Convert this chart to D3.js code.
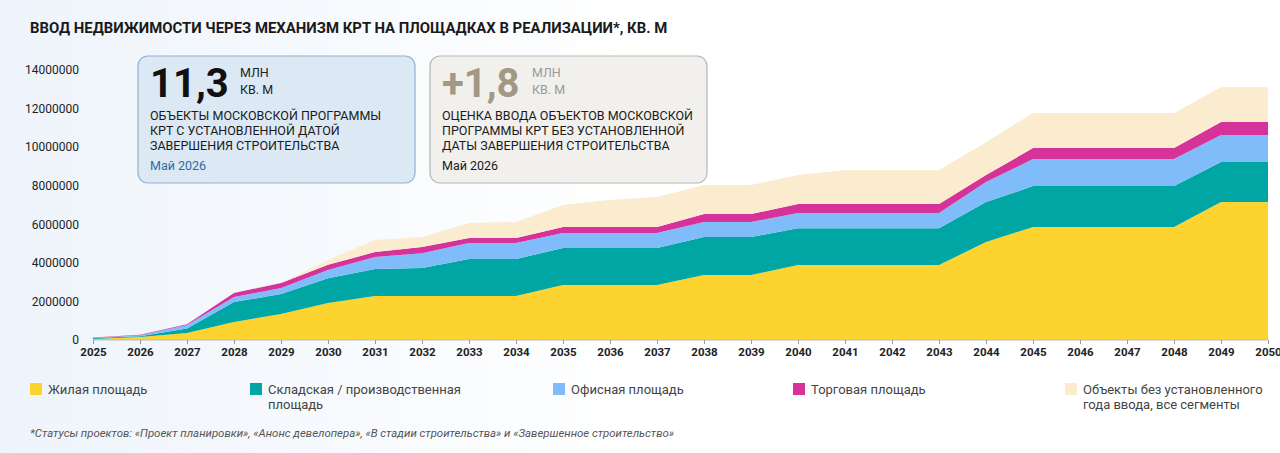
<!DOCTYPE html>
<html><head><meta charset="utf-8">
<script src="https://cdn.jsdelivr.net/npm/d3@7"></script>
<style>
body{margin:0;background:#fff;font-family:Roboto,"Noto Sans",sans-serif;}
svg text{font-family:Roboto,"Noto Sans",sans-serif;}
</style></head><body>
<div id="chart"></div>
<script>
// values in million sq. m, per segment, per year
var years = d3.range(2025, 2051);
var residential = [0.05,0.15,0.36,0.93,1.35,1.92,2.28,2.28,2.28,2.28,2.85,2.85,2.85,3.37,3.37,3.89,3.89,3.89,3.89,5.08,5.86,5.86,5.86,5.86,7.15,7.15];
var warehouse = [0.05,0.05,0.24,1.04,1.03,1.28,1.40,1.45,1.92,1.92,1.92,1.92,1.92,1.97,1.97,1.91,1.91,1.91,1.91,2.07,2.12,2.12,2.12,2.12,2.08,2.08];
var office = [0.02,0.05,0.18,0.26,0.32,0.43,0.62,0.77,0.83,0.83,0.78,0.78,0.78,0.78,0.78,0.78,0.78,0.78,0.78,1.04,1.40,1.40,1.40,1.40,1.40,1.40];
var retail = [0.01,0.02,0.04,0.21,0.25,0.27,0.26,0.32,0.26,0.26,0.31,0.31,0.31,0.41,0.41,0.47,0.47,0.47,0.47,0.36,0.57,0.57,0.57,0.57,0.67,0.67];
var undated = [0,0,0,0,0.02,0.25,0.62,0.52,0.78,0.83,1.14,1.40,1.55,1.51,1.51,1.50,1.76,1.76,1.76,1.71,1.82,1.82,1.82,1.82,1.80,1.80];
var yTicks = [0,2000000,4000000,6000000,8000000,10000000,12000000,14000000];

var keys = ["res","wh","off","ret","und"];
var colors = {res:"#fdd42f", wh:"#00a6a4", off:"#7fbcf9", ret:"#d6339a", und:"#fbebcf"};
var labels = ["Жилая площадь", ["Складская / производственная","площадь"], "Офисная площадь", "Торговая площадь", ["Объекты без установленного","года ввода, все сегменты"]];

var table = years.map(function(y, i){
  return {year:y, res:residential[i]*1e6, wh:warehouse[i]*1e6, off:office[i]*1e6, ret:retail[i]*1e6, und:undated[i]*1e6};
});

var W = 1280, H = 453;
var svg = d3.select("#chart").append("svg").attr("width", W).attr("height", H);

var defs = svg.append("defs");
var grad = defs.append("linearGradient").attr("id","bg").attr("x1","0").attr("x2","1").attr("y1","0").attr("y2","0");
grad.append("stop").attr("offset","0").attr("stop-color","#eef4fb");
grad.append("stop").attr("offset","0.5").attr("stop-color","#ffffff");
svg.append("rect").attr("width",W).attr("height",H).attr("fill","url(#bg)");

svg.append("text").attr("x",30).attr("y",33).attr("font-size",14.9).attr("font-weight",700).attr("fill","#1a1a1a")
  .text("ВВОД НЕДВИЖИМОСТИ ЧЕРЕЗ МЕХАНИЗМ КРТ НА ПЛОЩАДКАХ В РЕАЛИЗАЦИИ*, КВ. М");

var x = d3.scaleLinear().domain([2025, 2050]).range([93, 1268]);
var y = d3.scaleLinear().domain([0, 14000000]).range([340, 70]);

var stack = d3.stack().keys(keys)(table);
var area = d3.area().x(function(d){return x(d.data.year);}).y0(function(d){return y(d[0]);}).y1(function(d){return y(d[1]);});
svg.append("g").selectAll("path").data(stack).enter().append("path")
  .attr("d", area).attr("fill", function(d){return colors[d.key];});

svg.append("line").attr("x1",93).attr("x2",1268).attr("y1",340).attr("y2",340).attr("stroke","#bbb");

var yAxis = svg.append("g").attr("transform","translate(93,0)")
  .call(d3.axisLeft(y).tickValues(yTicks).tickSize(0).tickPadding(14).tickFormat(d3.format("d")));
yAxis.select(".domain").remove();
yAxis.selectAll("text").attr("font-size",12).attr("fill","#222");

var xAxis = svg.append("g").attr("transform","translate(0,340)")
  .call(d3.axisBottom(x).tickValues(years).tickSize(4).tickPadding(4).tickFormat(d3.format("d")));
xAxis.select(".domain").remove();
xAxis.selectAll("line").attr("stroke","#999");
xAxis.selectAll("text").attr("font-size",11.5).attr("font-weight",700).attr("fill","#222");

// info boxes
function box(x0, fill, stroke, big, bigColor, unitColor, lines, dateColor){
  var g = svg.append("g");
  g.append("rect").attr("x",x0).attr("y",56).attr("width",277).attr("height",127).attr("rx",10)
    .attr("fill",fill).attr("stroke",stroke).attr("stroke-width",1.2);
  g.append("text").attr("x",x0+12).attr("y",97).attr("font-size",40).attr("font-weight",700).attr("fill",bigColor).text(big);
  g.append("text").attr("x",x0+102).attr("y",77).attr("font-size",12.5).attr("fill",unitColor).text("МЛН");
  g.append("text").attr("x",x0+102).attr("y",94).attr("font-size",12.5).attr("fill",unitColor).text("КВ. М");
  lines.forEach(function(l, i){
    g.append("text").attr("x",x0+12).attr("y",120+i*15).attr("font-size",12.5).attr("fill","#1a1a1a").text(l);
  });
  g.append("text").attr("x",x0+12).attr("y",170).attr("font-size",12.5).attr("fill",dateColor).text("Май 2026");
}
box(138, "#dce9f5", "#8fb0cf", "11,3", "#111", "#222",
  ["ОБЪЕКТЫ МОСКОВСКОЙ ПРОГРАММЫ","КРТ С УСТАНОВЛЕННОЙ ДАТОЙ","ЗАВЕРШЕНИЯ СТРОИТЕЛЬСТВА"], "#2f6aa3");
box(430, "#f1f0ed", "#b5b5b5", "+1,8", "#a39884", "#9a9a9a",
  ["ОЦЕНКА ВВОДА ОБЪЕКТОВ МОСКОВСКОЙ","ПРОГРАММЫ КРТ БЕЗ УСТАНОВЛЕННОЙ","ДАТЫ ЗАВЕРШЕНИЯ СТРОИТЕЛЬСТВА"], "#1a1a1a");

// legend
var legX = [30, 250, 553, 793, 1065];
keys.forEach(function(k, i){
  var g = svg.append("g").attr("transform","translate("+legX[i]+",383)");
  g.append("rect").attr("width",12).attr("height",12).attr("fill",colors[k]);
  var ls = Array.isArray(labels[i]) ? labels[i] : [labels[i]];
  ls.forEach(function(l, j){
    g.append("text").attr("x",18).attr("y",11+j*15).attr("font-size",13).attr("fill","#444").text(l);
  });
});

svg.append("text").attr("x",30).attr("y",437).attr("font-size",11.4).attr("font-style","italic").attr("fill","#555")
  .text("*Статусы проектов: «Проект планировки», «Анонс девелопера», «В стадии строительства» и «Завершенное строительство»");
</script>
</body></html>
